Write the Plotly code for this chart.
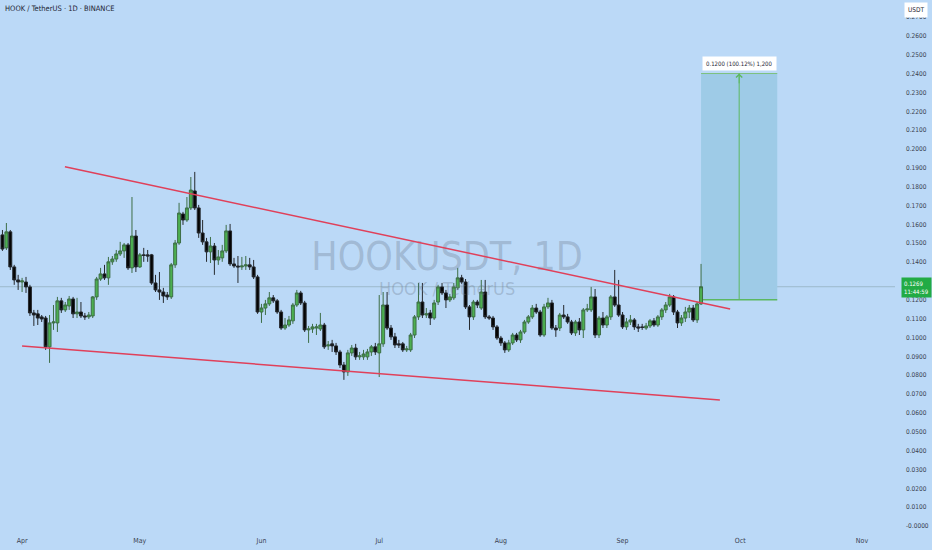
import plotly.graph_objects as go
import pandas as pd

# daily candles, HOOK/USDT
START_DATE = "2025-03-27"

OPEN = [
    0.1544, 0.1475, 0.1560, 0.1374, 0.1305, 0.1294, 0.1294, 0.1268, 0.1130, 0.1125,
    0.1109, 0.1103, 0.0950, 0.1077, 0.1077, 0.1194, 0.1146, 0.1167, 0.1204, 0.1125,
    0.1135, 0.1114, 0.1109, 0.1114, 0.1215, 0.1310, 0.1337, 0.1316, 0.1401, 0.1416,
    0.1443, 0.1459, 0.1491, 0.1369, 0.1538, 0.1374, 0.1438, 0.1438, 0.1438, 0.1289,
    0.1252, 0.1241, 0.1225, 0.1215, 0.1385, 0.1501, 0.1655, 0.1623, 0.1687, 0.1777,
    0.1687, 0.1554, 0.1507, 0.1454, 0.1485, 0.1411, 0.1422, 0.1459, 0.1565, 0.1390,
    0.1379, 0.1374, 0.1379, 0.1385, 0.1374, 0.1321, 0.1135, 0.1156, 0.1178, 0.1210,
    0.1194, 0.1135, 0.1050, 0.1066, 0.1088, 0.1172, 0.1236, 0.1183, 0.1040, 0.1045,
    0.1050, 0.1045, 0.1066, 0.0955, 0.0966, 0.0955, 0.0923, 0.0854, 0.0817, 0.0918,
    0.0944, 0.0897, 0.0897, 0.0897, 0.0923, 0.0950, 0.0918, 0.0966, 0.1172, 0.1050,
    0.1003, 0.0966, 0.0966, 0.0934, 0.0934, 0.1013, 0.1109, 0.1188, 0.1119, 0.1130,
    0.1103, 0.1188, 0.1268, 0.1236, 0.1199, 0.1210, 0.1263, 0.1316, 0.1294, 0.1162,
    0.1109, 0.1188, 0.1156, 0.1241, 0.1109, 0.1103, 0.1056, 0.0997, 0.0971, 0.0934,
    0.0971, 0.1013, 0.0987, 0.1029, 0.1082, 0.1109, 0.1156, 0.1135, 0.1013, 0.1162,
    0.1183, 0.1050, 0.1050, 0.1119, 0.1109, 0.1082, 0.1024, 0.1082, 0.1040, 0.1146,
    0.1146, 0.1215, 0.1013, 0.1103, 0.1066, 0.1109, 0.1215, 0.1172, 0.1119, 0.1056,
    0.1082, 0.1093, 0.1056, 0.1056, 0.1050, 0.1061, 0.1088, 0.1066, 0.1109, 0.1146,
    0.1172, 0.1215, 0.1135, 0.1077, 0.1103, 0.1135, 0.1156, 0.1093, 0.1178,
]
HIGH = [
    0.1570, 0.1607, 0.1570, 0.1385, 0.1332, 0.1316, 0.1321, 0.1279, 0.1146, 0.1146,
    0.1119, 0.1114, 0.1119, 0.1172, 0.1215, 0.1210, 0.1188, 0.1220, 0.1215, 0.1210,
    0.1188, 0.1130, 0.1135, 0.1220, 0.1321, 0.1369, 0.1385, 0.1427, 0.1432, 0.1464,
    0.1507, 0.1501, 0.1501, 0.1745, 0.1570, 0.1448, 0.1475, 0.1464, 0.1443, 0.1332,
    0.1347, 0.1263, 0.1241, 0.1395, 0.1517, 0.1714, 0.1666, 0.1745, 0.1851, 0.1878,
    0.1703, 0.1623, 0.1528, 0.1533, 0.1501, 0.1464, 0.1491, 0.1597, 0.1602, 0.1422,
    0.1432, 0.1427, 0.1432, 0.1422, 0.1411, 0.1332, 0.1178, 0.1199, 0.1241, 0.1225,
    0.1204, 0.1146, 0.1103, 0.1114, 0.1183, 0.1252, 0.1247, 0.1194, 0.1061, 0.1072,
    0.1072, 0.1130, 0.1077, 0.0981, 0.0987, 0.0971, 0.0934, 0.0870, 0.0934, 0.0960,
    0.0966, 0.0923, 0.0934, 0.0939, 0.0960, 0.0971, 0.1225, 0.1241, 0.1241, 0.1066,
    0.1024, 0.0987, 0.0976, 0.0955, 0.1024, 0.1119, 0.1289, 0.1289, 0.1156, 0.1146,
    0.1199, 0.1279, 0.1289, 0.1252, 0.1231, 0.1289, 0.1369, 0.1332, 0.1310, 0.1172,
    0.1199, 0.1199, 0.1305, 0.1305, 0.1119, 0.1114, 0.1066, 0.1008, 0.0981, 0.0987,
    0.1024, 0.1024, 0.1040, 0.1093, 0.1119, 0.1172, 0.1178, 0.1146, 0.1178, 0.1210,
    0.1199, 0.1066, 0.1130, 0.1172, 0.1125, 0.1093, 0.1093, 0.1103, 0.1156, 0.1178,
    0.1268, 0.1257, 0.1114, 0.1135, 0.1119, 0.1225, 0.1358, 0.1305, 0.1135, 0.1103,
    0.1119, 0.1103, 0.1072, 0.1072, 0.1077, 0.1098, 0.1103, 0.1119, 0.1156, 0.1188,
    0.1231, 0.1225, 0.1146, 0.1119, 0.1162, 0.1172, 0.1172, 0.1188, 0.1390,
]
LOW = [
    0.1459, 0.1464, 0.1358, 0.1279, 0.1252, 0.1241, 0.1236, 0.1114, 0.1061, 0.1066,
    0.1082, 0.0934, 0.0865, 0.1040, 0.1029, 0.1130, 0.1135, 0.1146, 0.1103, 0.1103,
    0.1103, 0.1093, 0.1098, 0.1103, 0.1199, 0.1300, 0.1305, 0.1279, 0.1385, 0.1401,
    0.1432, 0.1422, 0.1358, 0.1342, 0.1347, 0.1369, 0.1401, 0.1401, 0.1279, 0.1241,
    0.1199, 0.1183, 0.1199, 0.1204, 0.1369, 0.1491, 0.1597, 0.1613, 0.1676, 0.1676,
    0.1528, 0.1491, 0.1401, 0.1395, 0.1332, 0.1385, 0.1401, 0.1448, 0.1379, 0.1369,
    0.1289, 0.1358, 0.1358, 0.1358, 0.1310, 0.1125, 0.1077, 0.1119, 0.1167, 0.1183,
    0.1125, 0.1040, 0.1040, 0.1056, 0.1072, 0.1162, 0.1172, 0.1029, 0.0971, 0.1024,
    0.1013, 0.1034, 0.0939, 0.0934, 0.0923, 0.0907, 0.0838, 0.0775, 0.0796, 0.0902,
    0.0881, 0.0881, 0.0881, 0.0881, 0.0902, 0.0907, 0.0790, 0.0950, 0.1040, 0.0987,
    0.0944, 0.0944, 0.0923, 0.0923, 0.0923, 0.0997, 0.1093, 0.1103, 0.1103, 0.1066,
    0.1093, 0.1172, 0.1225, 0.1156, 0.1188, 0.1199, 0.1252, 0.1284, 0.1151, 0.1040,
    0.1093, 0.1156, 0.1146, 0.1098, 0.1093, 0.1040, 0.0987, 0.0955, 0.0918, 0.0923,
    0.0960, 0.0976, 0.0971, 0.1019, 0.1072, 0.1098, 0.1125, 0.1003, 0.1003, 0.1151,
    0.1040, 0.1003, 0.1034, 0.1098, 0.1072, 0.1013, 0.1008, 0.1013, 0.0997, 0.1135,
    0.1135, 0.0997, 0.0997, 0.1050, 0.1050, 0.1093, 0.1162, 0.1109, 0.1045, 0.1040,
    0.1066, 0.1040, 0.1029, 0.1040, 0.1040, 0.1050, 0.1056, 0.1056, 0.1093, 0.1130,
    0.1162, 0.1119, 0.1050, 0.1061, 0.1082, 0.1103, 0.1082, 0.1077, 0.1172,
]
CLOSE = [
    0.1469, 0.1560, 0.1374, 0.1305, 0.1294, 0.1300, 0.1268, 0.1130, 0.1119, 0.1103,
    0.1098, 0.0950, 0.1077, 0.1082, 0.1194, 0.1146, 0.1172, 0.1204, 0.1125, 0.1135,
    0.1114, 0.1109, 0.1119, 0.1215, 0.1310, 0.1337, 0.1316, 0.1401, 0.1416, 0.1443,
    0.1459, 0.1491, 0.1369, 0.1538, 0.1374, 0.1438, 0.1435, 0.1432, 0.1289, 0.1252,
    0.1241, 0.1220, 0.1215, 0.1385, 0.1501, 0.1660, 0.1623, 0.1687, 0.1782, 0.1687,
    0.1554, 0.1507, 0.1454, 0.1485, 0.1411, 0.1427, 0.1459, 0.1565, 0.1390, 0.1379,
    0.1374, 0.1379, 0.1385, 0.1374, 0.1321, 0.1135, 0.1156, 0.1178, 0.1210, 0.1194,
    0.1135, 0.1050, 0.1066, 0.1093, 0.1172, 0.1236, 0.1183, 0.1040, 0.1045, 0.1056,
    0.1056, 0.1066, 0.0950, 0.0960, 0.0955, 0.0923, 0.0854, 0.0817, 0.0918, 0.0944,
    0.0897, 0.0902, 0.0912, 0.0923, 0.0950, 0.0923, 0.0966, 0.1172, 0.1050, 0.1003,
    0.0960, 0.0960, 0.0934, 0.0939, 0.1013, 0.1109, 0.1188, 0.1119, 0.1125, 0.1103,
    0.1183, 0.1268, 0.1236, 0.1199, 0.1215, 0.1268, 0.1316, 0.1294, 0.1162, 0.1109,
    0.1188, 0.1172, 0.1241, 0.1109, 0.1103, 0.1056, 0.0997, 0.0971, 0.0934, 0.0971,
    0.1013, 0.0987, 0.1029, 0.1082, 0.1109, 0.1156, 0.1135, 0.1013, 0.1162, 0.1183,
    0.1050, 0.1040, 0.1119, 0.1109, 0.1082, 0.1024, 0.1082, 0.1040, 0.1146, 0.1151,
    0.1215, 0.1013, 0.1103, 0.1066, 0.1109, 0.1215, 0.1172, 0.1119, 0.1056, 0.1082,
    0.1093, 0.1056, 0.1050, 0.1053, 0.1061, 0.1088, 0.1066, 0.1109, 0.1146, 0.1172,
    0.1215, 0.1135, 0.1077, 0.1103, 0.1135, 0.1156, 0.1093, 0.1178, 0.1269,
]

# drawn trend lines (falling wedge)
UPPER_LINE_X = ["2025-04-11 22:00", "2025-09-28 10:00"]
UPPER_LINE_Y = [0.1905, 0.1151]
LOWER_LINE_X = ["2025-04-01 00:00", "2025-09-25 19:00"]
LOWER_LINE_Y = [0.0955, 0.0668]

# long position tool
TARGET_START = "2025-09-21 00:00"
TARGET_END = "2025-10-10 10:00"
TARGET_MID = "2025-09-30 17:00"
ENTRY_PRICE = 0.12
TARGET_PRICE = 0.24
TARGET_LABEL = "0.1200 (100.12%) 1,200"

LAST_PRICE = 0.1269
COUNTDOWN = "11:44:59"

MONTH_TICKS = ["2025-04-01", "2025-05-01", "2025-06-01", "2025-07-01",
               "2025-08-01", "2025-09-01", "2025-10-01", "2025-11-01"]
MONTH_LABELS = ["Apr", "May", "Jun", "Jul", "Aug", "Sep", "Oct", "Nov"]

PRICE_TICKS = [i / 100 for i in range(0, 28)]
PRICE_LABELS = ["-0.0000"] + ["{:.4f}".format(v) for v in PRICE_TICKS[1:]]

BG = "#bbd9f7"
FONT = "Liberation Sans Narrow, DejaVu Sans Condensed, Liberation Sans, Arial, sans-serif"
TEXT = "#3a4150"
GREEN = "#4caf50"
RED = "#e0405a"

dates = pd.date_range(START_DATE, periods=len(CLOSE), freq="D")

fig = go.Figure()

# watermark, drawn first so the candles sit on top of it
fig.add_trace(
    go.Scatter(
        x=["2025-07-18 07:00", "2025-07-18 07:00"],
        y=[0.1411, 0.1250],
        mode="text",
        text=["HOOKUSDT, 1D", "HOOK / TetherUS"],
        textfont=dict(family=FONT, size=[39, 18], color="rgba(105,120,140,0.32)"),
        hoverinfo="skip",
        showlegend=False,
    )
)

fig.add_trace(
    go.Candlestick(
        x=dates,
        open=OPEN,
        high=HIGH,
        low=LOW,
        close=CLOSE,
        increasing=dict(line=dict(color="#3d6e46", width=1), fillcolor=GREEN),
        decreasing=dict(line=dict(color="#25292e", width=1), fillcolor="#050505"),
        whiskerwidth=0,
        showlegend=False,
        hoverinfo="skip",
    )
)

for xs, ys in [(UPPER_LINE_X, UPPER_LINE_Y), (LOWER_LINE_X, LOWER_LINE_Y)]:
    fig.add_trace(
        go.Scatter(x=xs, y=ys, mode="lines", line=dict(color=RED, width=1.5),
                   hoverinfo="skip", showlegend=False)
    )

# arrow of the position tool
fig.add_trace(
    go.Scatter(
        x=[TARGET_MID, TARGET_MID],
        y=[ENTRY_PRICE, TARGET_PRICE],
        mode="lines",
        line=dict(color="#5cb860", width=1),
        hoverinfo="skip",
        showlegend=False,
    )
)
fig.add_annotation(
    x=TARGET_MID, y=TARGET_PRICE, ax=TARGET_MID, ay=TARGET_PRICE - 0.006,
    xref="x", yref="y", axref="x", ayref="y",
    showarrow=True, arrowhead=4, arrowsize=1.2, arrowwidth=1, arrowcolor="#5cb860", text="",
)

shapes = [
    dict(type="rect", xref="x", yref="y", x0=TARGET_START, x1=TARGET_END,
         y0=ENTRY_PRICE, y1=TARGET_PRICE, fillcolor="#9ecbe7", line=dict(width=0), layer="below"),
    dict(type="line", xref="x", yref="y", x0=TARGET_START, x1=TARGET_END,
         y0=ENTRY_PRICE, y1=ENTRY_PRICE, line=dict(color="#5cb860", width=1.5), layer="below"),
    dict(type="line", xref="x", yref="y", x0=TARGET_START, x1=TARGET_END,
         y0=TARGET_PRICE, y1=TARGET_PRICE, line=dict(color="#7cc07e", width=1), layer="below"),
    dict(type="line", xref="paper", yref="y", x0=0, x1=1,
         y0=LAST_PRICE, y1=LAST_PRICE, line=dict(color="rgba(110,135,140,0.4)", width=1),
         layer="below"),
]

annotations = [
    dict(text="HOOK / TetherUS · 1D · BINANCE", xref="paper", yref="paper", x=0.003, y=0.997,
         xanchor="left", yanchor="top", showarrow=False,
         font=dict(family=FONT, size=7.5, color="#1e2433")),
    dict(text=TARGET_LABEL, xref="x", yref="y", x=TARGET_MID, y=0.2455,
         showarrow=False, bgcolor="white", borderpad=3,
         font=dict(family=FONT, size=6, color="#1e2433")),
    dict(text="USDT", xref="paper", yref="paper", x=1.0235, y=0.981,
         xanchor="center", yanchor="middle",
         showarrow=False, bgcolor="white", borderpad=3,
         font=dict(family=FONT, size=6.5, color="#1e2433")),
    dict(text="{:.4f}<br>{}".format(LAST_PRICE, COUNTDOWN), xref="paper", yref="y",
         x=1.0235, y=LAST_PRICE - 0.0004, xanchor="center", yanchor="middle",
         showarrow=False, bgcolor="#22ab45", borderpad=2,
         align="left", font=dict(family=FONT, size=6, color="white")),
]

fig.update_layout(
    width=932,
    height=550,
    margin=dict(l=0, r=37, t=0, b=15, autoexpand=False),
    paper_bgcolor=BG,
    plot_bgcolor=BG,
    font=dict(family=FONT, size=7, color=TEXT),
    boxgap=0.25,
    boxgroupgap=0,
    shapes=shapes,
    annotations=list(fig.layout.annotations) + annotations,
    xaxis=dict(
        range=["2025-03-26 09:00", "2025-11-09 10:00"],
        tickvals=MONTH_TICKS,
        ticktext=MONTH_LABELS,
        showgrid=False,
        zeroline=False,
        showline=False,
        rangeslider=dict(visible=False),
        tickfont=dict(size=7, color=TEXT),
    ),
    yaxis=dict(
        side="right",
        range=[-0.0048, 0.2790],
        tickvals=PRICE_TICKS,
        ticktext=PRICE_LABELS,
        showgrid=False,
        zeroline=False,
        showline=False,
        ticklabelstandoff=10,
        tickfont=dict(size=6.5, color=TEXT),
    ),
)

fig.write_html(
    "out.html",
    config={"displayModeBar": False},
    post_script="document.body.style.margin='0px';",
)
